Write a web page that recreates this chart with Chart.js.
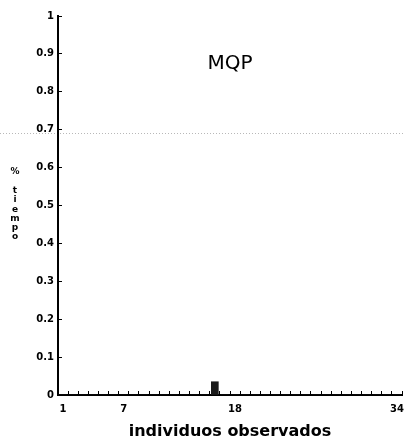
<!DOCTYPE html>
<html>
<head>
<meta charset="utf-8">
<script src="https://cdn.jsdelivr.net/npm/chart.js@4.4.0/dist/chart.umd.min.js"></script>
<style>
  html, body { margin: 0; padding: 0; background: #fff; }
  #wrap { width: 405px; height: 442px; }
</style>
</head>
<body>
<div id="wrap"><canvas id="barGraph1" width="405" height="442"></canvas></div>
<script>
// individuos 1..34
var individuos = [];
for (var n = 1; n <= 34; n++) individuos.push(String(n));
var shownLabels = ['1', '7', '18', '34'];
// % tiempo, only individuo 16 has a visible bar
var tiempo = [0, 0, 0, 0, 0, 0, 0, 0, 0, 0, 0, 0, 0, 0, 0, 0.035, 0, 0, 0, 0, 0, 0, 0, 0, 0, 0, 0, 0, 0, 0, 0, 0, 0, 0];
var yTicks = [0, 0.1, 0.2, 0.3, 0.4, 0.5, 0.6, 0.7, 0.8, 0.9, 1];
var panelTitle = 'MQP';
var yTitle = '% tiempo';
var scanLine = 0.69;

var fontFam = '"DejaVu Sans", Verdana, sans-serif';

var extras = {
	id: 'extras',
	beforeDraw: function(chart) {
		var ctx = chart.ctx;
		ctx.save();
		ctx.fillStyle = '#fff';
		ctx.fillRect(0, 0, chart.width, chart.height);
		// faint dotted line from the scan
		var yy = Math.round(chart.scales.y.getPixelForValue(scanLine)) + 0.5;
		ctx.strokeStyle = '#b8b8b8';
		ctx.lineWidth = 1;
		ctx.setLineDash([1, 2]);
		ctx.beginPath();
		ctx.moveTo(0, yy);
		ctx.lineTo(chart.width, yy);
		ctx.stroke();
		ctx.restore();
	},
	afterDraw: function(chart) {
		var ctx = chart.ctx;
		var area = chart.chartArea;
		ctx.save();
		ctx.fillStyle = '#000';
		ctx.textAlign = 'center';
		ctx.textBaseline = 'middle';
		ctx.font = '20px ' + fontFam;
		ctx.fillText(panelTitle, (area.left + area.right) / 2, chart.scales.y.getPixelForValue(0.875));
		// stacked y title
		ctx.font = 'bold 9px ' + fontFam;
		var chars = yTitle.split('');
		for (var i = 0; i < chars.length; i++) {
			ctx.fillText(chars[i], 15, 172 + i * 9.3);
		}
		ctx.restore();
	}
};

var chartdata = {
	labels: individuos,
	datasets: [{
		label: panelTitle,
		backgroundColor: '#1a1a1a',
		borderColor: '#000',
		borderWidth: 0,
		barThickness: 7,
		data: tiempo
	}]
};

var ctx = document.getElementById('barGraph1');

var barGraph = new Chart(ctx, {
	type: 'bar',
	data: chartdata,
	plugins: [extras],
	options: {
		responsive: false,
		animation: false,
		layout: { padding: { top: 16, right: 3, bottom: 1, left: 0 } },
		plugins: {
			legend: { display: false },
			tooltip: { enabled: false }
		},
		scales: {
			x: {
				grid: { drawOnChartArea: false, tickLength: -4, color: '#000', lineWidth: 1 },
				border: { color: '#000', width: 2 },
				ticks: {
					autoSkip: false,
					maxRotation: 0,
					padding: 12,
					color: '#000',
					font: { family: fontFam, size: 10, weight: 'bold' },
					callback: function(v, i) {
						var l = individuos[i];
						return shownLabels.indexOf(l) >= 0 ? l : '';
					}
				},
				title: {
					display: true,
					text: 'individuos observados',
					color: '#000',
					padding: { top: 2, bottom: 0 },
					font: { family: fontFam, size: 16, weight: 'bold' }
				},
				afterFit: function(s) {
					s.height = 46;
					s.paddingLeft = 0;
					s.paddingRight = 0;
				}
			},
			y: {
				min: 0,
				max: 1,
				afterBuildTicks: function(s) { s.ticks = yTicks.map(function(v) { return { value: v }; }); },
				grid: { drawOnChartArea: false, tickLength: -4, color: '#000', lineWidth: 1 },
				border: { color: '#000', width: 2 },
				ticks: {
					padding: 8,
					color: '#000',
					font: { family: fontFam, size: 10, weight: 'bold' },
					callback: function(v) { return String(v); }
				},
				afterFit: function(s) { s.width = 58; }
			}
		}
	}
});
</script>
</body>
</html>
